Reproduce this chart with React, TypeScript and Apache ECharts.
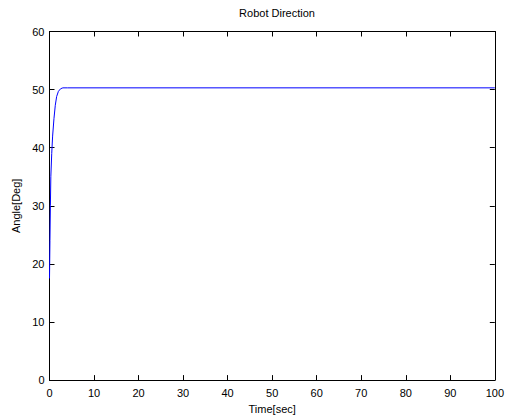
import React, { useEffect, useRef } from "react";
import * as echarts from "echarts";

const timeSec = [0, 0.1, 0.2, 0.3, 0.5, 0.7, 1.0, 1.3, 1.6, 2.0, 2.5, 3.0, 4.0, 100];
const angleDeg = [17.5, 24, 30, 35, 39, 42, 45, 47.3, 48.8, 49.7, 50.15, 50.3, 50.3, 50.3];
const titleText = "Robot Direction";
const xName = "Time[sec]";
const yName = "Angle[Deg]";

export default function App() {
  const ref = useRef<HTMLDivElement>(null);
  useEffect(() => {
    if (!ref.current) return;
    const chart = echarts.init(ref.current, null, { renderer: "svg" });
    const font = "'Liberation Sans', Arial, sans-serif";
    const axisCommon = {
      axisLine: { show: true, onZero: false, lineStyle: { color: "#000", width: 1 } },
      axisTick: { show: true, inside: true, length: 5, lineStyle: { color: "#000" } },
      splitLine: { show: false },
    };
    chart.setOption({
      animation: false,
      backgroundColor: "#fff",
      textStyle: { fontFamily: font },
      title: {
        text: titleText,
        left: 272,
        top: 2,
        textAlign: "center",
        textStyle: { fontSize: 11, fontWeight: "normal", color: "#000", fontFamily: font },
      },
      grid: { left: 49.5, right: 12, top: 31.5, bottom: 36, containLabel: false },
      xAxis: [
        {
          type: "value",
          min: 0,
          max: 100,
          interval: 10,
          position: "bottom",
          name: xName,
          nameLocation: "middle",
          nameGap: 21,
          nameTextStyle: { fontSize: 11, color: "#000", fontFamily: font },
          axisLabel: { fontSize: 11, color: "#000", margin: 7, fontFamily: font },
          ...axisCommon,
        },
        {
          type: "value",
          min: 0,
          max: 100,
          interval: 10,
          position: "top",
          axisLabel: { show: false },
          ...axisCommon,
        },
      ],
      yAxis: [
        {
          type: "value",
          min: 0,
          max: 60,
          interval: 10,
          position: "left",
          name: yName,
          nameLocation: "middle",
          nameGap: 28,
          nameRotate: 90,
          nameTextStyle: { fontSize: 11, color: "#000", fontFamily: font },
          axisLabel: { fontSize: 11, color: "#000", margin: 5, fontFamily: font },
          ...axisCommon,
        },
        {
          type: "value",
          min: 0,
          max: 60,
          interval: 10,
          position: "right",
          axisLabel: { show: false },
          ...axisCommon,
        },
      ],
      series: [
        {
          type: "line",
          data: timeSec.map((t, i) => [t, angleDeg[i]]),
          showSymbol: false,
          smooth: false,
          lineStyle: { color: "#0000ff", width: 1 },
          itemStyle: { color: "#0000ff" },
          xAxisIndex: 0,
          yAxisIndex: 0,
        },
      ],
    });
    return () => chart.dispose();
  }, []);
  return (
    <div
      ref={ref}
      style={{ position: "fixed", left: 0, top: 0, width: 507, height: 419 }}
    />
  );
}
